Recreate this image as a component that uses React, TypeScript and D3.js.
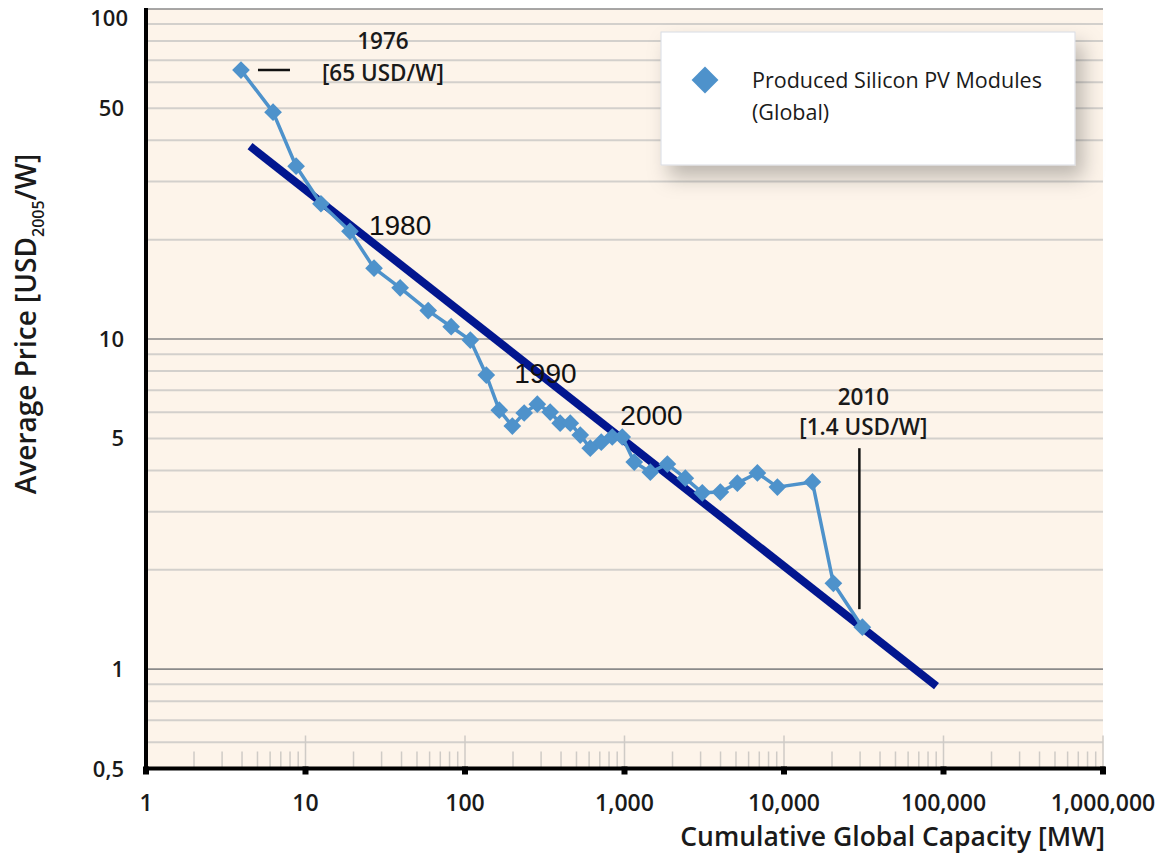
import React from 'react';
import * as d3 from 'd3';

const W = 1159;
const H = 855;
const margin = { top: 9, left: 146, right: 56, bottom: 86 };

// produced silicon PV modules, 1976..2010
const years = [
  1976, 1977, 1978, 1979, 1980, 1981, 1982, 1983, 1984, 1985, 1986, 1987,
  1988, 1989, 1990, 1991, 1992, 1993, 1994, 1995, 1996, 1997, 1998, 1999,
  2000, 2001, 2002, 2003, 2004, 2005, 2006, 2007, 2008, 2009, 2010,
];
const capacity = [
  3.94, 6.26, 8.73, 12.5, 19.0, 26.9, 39.2, 58.8, 81.9, 108, 136, 164, 198,
  235, 284, 342, 395, 457, 528, 610, 715, 838, 968, 1151, 1452, 1857, 2406,
  3074, 3990, 5100, 6810, 9090, 15070, 20400, 31000,
];
const price = [
  65.3, 48.7, 33.4, 25.7, 21.2, 16.4, 14.3, 12.2, 10.9, 9.93, 7.78, 6.09,
  5.45, 5.97, 6.35, 6.01, 5.56, 5.56, 5.12, 4.67, 4.87, 5.05, 5.05, 4.24,
  3.95, 4.18, 3.79, 3.42, 3.44, 3.66, 3.93, 3.56, 3.69, 1.82, 1.34,
];
// learning curve fit
const trendCapacity = [4.49, 90400];
const trendPrice = [38.4, 0.888];

const xTicks = [1, 10, 100, 1000, 10000, 100000, 1000000];
const xTickLabels = ['1', '10', '100', '1,000', '10,000', '100,000', '1,000,000'];
const yTicks = [0.5, 1, 5, 10, 50, 100];
const yTickLabels = ['0,5', '1', '5', '10', '50', '100'];

const font = '"Open Sans", "DejaVu Sans", sans-serif';
const lineBlue = '#4e92cb';
const navy = '#02168f';

export default function App() {
  const x = d3.scaleLog().domain([1, 1e6]).range([margin.left, W - margin.right]);
  const y = d3.scaleLog().domain([0.5, 100]).range([H - margin.bottom - 0.5, margin.top]);

  const gridY: number[] = [];
  [0.1, 1, 10].forEach(d => {
    for (let k = 1; k <= 9; k++) {
      const v = d * k;
      if (v > 0.5 && v < 100) gridY.push(v);
    }
  });
  const gridX: number[] = [];
  [1, 10, 100, 1000, 10000, 100000].forEach(d => {
    for (let k = 2; k <= 9; k++) gridX.push(d * k);
  });

  const pts = capacity.map((c, i) => [x(c), y(price[i])] as [number, number]);
  const line = d3.line();
  const diamond = d3.symbol().type(d3.symbolDiamond2).size(200);
  const x0 = margin.left;
  const x1 = W - margin.right;
  const yb = y(0.5);

  const p1976 = pts[0];
  const p1980 = pts[4];
  const p1990 = pts[14];
  const p2000 = pts[24];
  const p2010 = pts[34];

  const txt = { fontFamily: font, fill: '#1a1a1a' } as const;

  return (
    <svg width={W} height={H} style={{ position: 'absolute', left: 0, top: 0, background: '#fff' }}>
      <defs>
        <filter id="shadow" x="-10%" y="-20%" width="130%" height="160%">
          <feDropShadow dx="8" dy="12" stdDeviation="10" floodColor="#000" floodOpacity="0.25" />
        </filter>
      </defs>
      <rect x={x0} y={y(100)} width={x1 - x0} height={yb - y(100)} fill="#fdf4ea" />

      {gridY.map(v => {
        const dark = v === 1 || v === 10;
        return (
          <line key={v} x1={x0} x2={x1} y1={y(v)} y2={y(v)}
            stroke={dark ? '#8a8a8a' : '#d3d0cc'} strokeWidth={dark ? 1.6 : 2} />
        );
      })}
      <line x1={x0} x2={x1} y1={y(100)} y2={y(100)} stroke="#8a8a8a" strokeWidth={1.6} />

      {gridX.map(v => (
        <line key={v} x1={x(v)} x2={x(v)} y1={yb - 17} y2={yb} stroke="#cfcbc6" strokeWidth={1.5} />
      ))}
      {xTicks.slice(1).map(v => (
        <line key={v} x1={x(v)} x2={x(v)} y1={yb - 33} y2={yb} stroke="#cfcbc6" strokeWidth={1.5} />
      ))}

      {/* trend */}
      <line x1={x(trendCapacity[0])} y1={y(trendPrice[0])} x2={x(trendCapacity[1])} y2={y(trendPrice[1])}
        stroke={navy} strokeWidth={8} />

      <path d={line(pts) || ''} fill="none" stroke={lineBlue} strokeWidth={3.5} strokeLinejoin="round" />
      {pts.map((p, i) => (
        <path key={years[i]} d={diamond() || ''} transform={`translate(${p[0]},${p[1]})`} fill={lineBlue} />
      ))}

      {/* axes */}
      <line x1={x0} x2={x1 + 2} y1={yb} y2={yb} stroke="#000" strokeWidth={4} />
      <line x1={x0} x2={x0} y1={y(100) - 1} y2={yb + 2} stroke="#000" strokeWidth={4} />
      {xTicks.map(v => (
        <rect key={v} x={x(v) - 3} y={yb - 2} width={6} height={8} fill="#000" />
      ))}

      {xTicks.map((v, i) => (
        <text key={v} x={x(v)} y={yb + 42} textAnchor="middle" {...txt}
          fontWeight={600} fontSize={23}>{xTickLabels[i]}</text>
      ))}
      {yTicks.map((v, i) => (
        <text key={v} x={v === 100 ? x0 - 18 : x0 - 22} y={v === 100 ? y(v) + 17 : y(v) + 8}
          textAnchor="end" {...txt} fontWeight={600} fontSize={22}>{yTickLabels[i]}</text>
      ))}

      <text x={x1 + 2} y={846} textAnchor="end" {...txt} fontWeight={600}
        fontSize={26.5}>Cumulative Global Capacity [MW]</text>
      <text transform="translate(36,324) rotate(-90)" textAnchor="middle" {...txt}
        fontWeight={600} fontSize={28}>
        Average Price [USD<tspan fontSize={16} dy={8}>2005</tspan><tspan dy={-8}>/W]</tspan>
      </text>

      {/* annotations */}
      <line x1={p1976[0] + 17} x2={p1976[0] + 49} y1={p1976[1]} y2={p1976[1]} stroke="#111" strokeWidth={2.5} />
      <text x={p1976[0] + 142} y={p1976[1] - 21} textAnchor="middle" {...txt}
        fontWeight={600} fontSize={22.5}>1976</text>
      <text x={p1976[0] + 142} y={p1976[1] + 11} textAnchor="middle" {...txt}
        fontWeight={600} fontSize={22.5}>[65 USD/W]</text>

      <text x={p1980[0] + 19} y={p1980[1] + 4} fontFamily="Liberation Sans, Arial, sans-serif"
        fontSize={28} fill="#111">1980</text>
      <text x={p1990[0] - 23} y={p1990[1] - 21} fontFamily="Liberation Sans, Arial, sans-serif"
        fontSize={28} fill="#111">1990</text>
      <text x={p2000[0] - 30} y={p2000[1] - 47} fontFamily="Liberation Sans, Arial, sans-serif"
        fontSize={28} fill="#111">2000</text>

      <text x={p2010[0] + 1} y={p2010[1] - 222} textAnchor="middle" {...txt}
        fontWeight={600} fontSize={22.5}>2010</text>
      <text x={p2010[0] + 1} y={p2010[1] - 192} textAnchor="middle" {...txt}
        fontWeight={600} fontSize={22.5}>[1.4 USD/W]</text>
      <line x1={p2010[0] - 3} x2={p2010[0] - 3} y1={p2010[1] - 179} y2={p2010[1] - 18}
        stroke="#111" strokeWidth={2.5} />

      {/* legend */}
      <rect x={661} y={32} width={414} height={133} fill="#fff" stroke="#d8dbe3" strokeWidth={1}
        filter="url(#shadow)" />
      <path d={d3.symbol().type(d3.symbolDiamond2).size(460)() || ''} transform="translate(705,80)" fill={lineBlue} />
      <text x={752} y={88} {...txt} fontSize={21.5}>Produced Silicon PV Modules</text>
      <text x={752} y={120} {...txt} fontSize={21.5}>(Global)</text>
    </svg>
  );
}
